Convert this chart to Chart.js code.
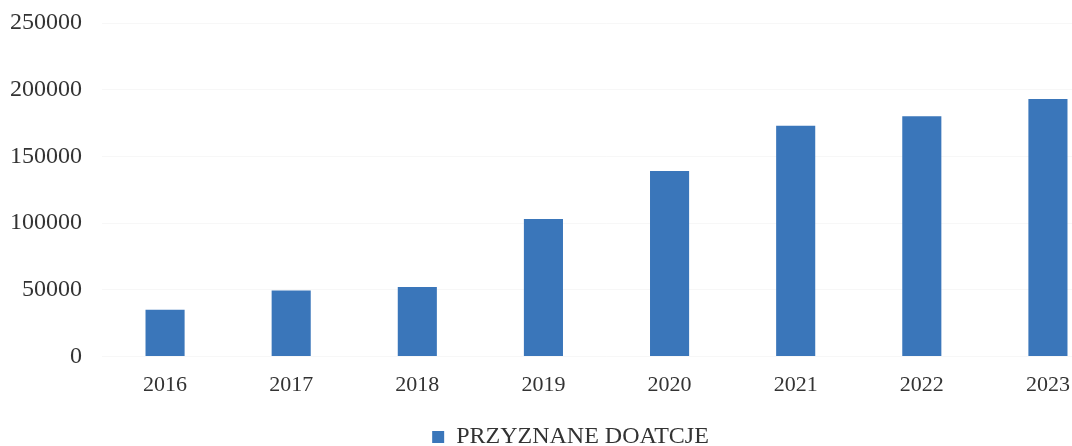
<!DOCTYPE html>
<html>
<head>
<meta charset="utf-8">
<script src="https://cdn.jsdelivr.net/npm/chart.js@4"></script>
<style>
  html, body { margin: 0; padding: 0; background: #fff; overflow: hidden; }
  #wrap { width: 1142px; height: 446px; }
</style>
</head>
<body>
<div id="wrap"><canvas id="grantsChart" width="1142" height="446"></canvas></div>
<script>
var years = ["2016", "2017", "2018", "2019", "2020", "2021", "2022", "2023"];
var grants = [35000, 49500, 52000, 103000, 139000, 173000, 180000, 193000];
var seriesName = "PRZYZNANE DOATCJE";
var yTicks = [0, 50000, 100000, 150000, 200000, 250000];

document.addEventListener("DOMContentLoaded", function() {
  var ctx = document.getElementById("grantsChart").getContext("2d");

  // legend sits a little right of the plot centre in the original
  var nudgeLegend = {
      id: "nudgeLegend",
      afterLayout: function(chart) {
          chart.legend.left += 14;
          chart.legend.right += 14;
      }
  };

  var grantsChart = new Chart(ctx, {
      type: "bar",
      data: {
          labels: years,
          datasets: [
              {
                  label: seriesName,
                  backgroundColor: "#3a76ba",
                  data: grants,
                  barPercentage: 0.62,
                  categoryPercentage: 0.5
              }
          ]
      },
      options: {
          responsive: false,
          animation: false,
          devicePixelRatio: 1,
          layout: { padding: { left: 2, right: 31, top: 23, bottom: -13 } },
          plugins: {
              tooltip: { enabled: false },
              legend: {
                  position: "bottom",
                  labels: {
                      color: "#333",
                      boxWidth: 12,
                      boxHeight: 12,
                      padding: 0,
                      font: { family: "Liberation Serif", size: 24 }
                  }
              }
          },
          scales: {
              x: {
                  grid: { display: false },
                  border: { display: false },
                  title: { display: true, text: " ", font: { size: 11 }, padding: { top: 5, bottom: 0 } },
                  ticks: {
                      color: "#333",
                      padding: 8,
                      font: { family: "Liberation Serif", size: 22 }
                  }
              },
              y: {
                  min: yTicks[0],
                  max: yTicks[yTicks.length - 1],
                  border: { display: false },
                  grid: { color: "rgba(0,0,0,0.03)", tickColor: "transparent", tickLength: 12 },
                  ticks: {
                      stepSize: yTicks[1] - yTicks[0],
                      padding: 8,
                      color: "#333",
                      font: { family: "Liberation Serif", size: 24 },
                      callback: function(v) { return String(v); }
                  }
              }
          }
      },
      plugins: [nudgeLegend]
  });
});
</script>
</body>
</html>
